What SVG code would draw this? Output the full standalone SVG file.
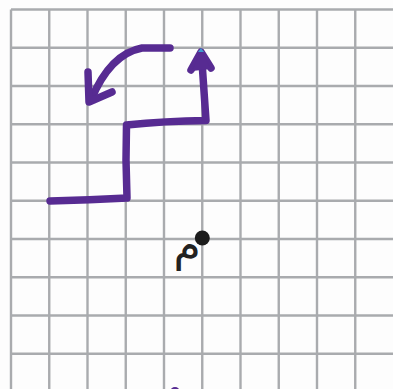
<svg xmlns="http://www.w3.org/2000/svg" width="393" height="389" viewBox="0 0 393 389">
<defs>
<style>
.grid line{stroke:#a9abae;stroke-width:2.4}
.ink{fill:none;stroke:#572b92;stroke-width:7.5;stroke-linecap:round;stroke-linejoin:round}
.lbl{font-family:"DejaVu Sans",sans-serif;font-size:44px;fill:#222}
</style>
</defs>
<rect width="393" height="389" fill="#fdfdfd"/>
<g class="grid" id="grid">
<line x1="11" y1="9.5" x2="11" y2="389"/>
<line x1="49.25" y1="9.5" x2="49.25" y2="389"/>
<line x1="87.5" y1="9.5" x2="87.5" y2="389"/>
<line x1="125.75" y1="9.5" x2="125.75" y2="389"/>
<line x1="164" y1="9.5" x2="164" y2="389"/>
<line x1="202.25" y1="9.5" x2="202.25" y2="389"/>
<line x1="240.5" y1="9.5" x2="240.5" y2="389"/>
<line x1="278.75" y1="9.5" x2="278.75" y2="389"/>
<line x1="317" y1="9.5" x2="317" y2="389"/>
<line x1="355.25" y1="9.5" x2="355.25" y2="389"/>
<line x1="11" y1="9.5" x2="393" y2="9.5"/>
<line x1="11" y1="47.75" x2="393" y2="47.75"/>
<line x1="11" y1="86" x2="393" y2="86"/>
<line x1="11" y1="124.25" x2="393" y2="124.25"/>
<line x1="11" y1="162.5" x2="393" y2="162.5"/>
<line x1="11" y1="200.75" x2="393" y2="200.75"/>
<line x1="11" y1="239" x2="393" y2="239"/>
<line x1="11" y1="277.25" x2="393" y2="277.25"/>
<line x1="11" y1="315.5" x2="393" y2="315.5"/>
<line x1="11" y1="353.75" x2="393" y2="353.75"/>
</g>
<g id="connectors">
<path class="ink" d="M50 201 Q90 200 127 198 L126 160 L126.5 125 Q165 121 206 120.5 L202 62"/>
<path class="ink" d="M191 70 L201 52 L211 68" />
<path d="M192 71 L201 50 L211 69 Z" fill="#572b92"/>
<path class="ink" d="M170 48 L142 48 Q110 54 91 100"/>
<path class="ink" d="M88 72 L89 102 L112 92"/>
<path d="M201 48 L204 52 L198 52 Z" fill="#39b6e0" opacity="0.8"/>
</g>
<g id="node-m">
<circle cx="202.3" cy="238" r="7.5" fill="#1c1c1c"/>
<text class="lbl" x="187" y="260" text-anchor="middle">م</text>
</g>
<g id="bottom-mark">
<circle cx="175" cy="392" r="5" fill="#572b92"/>
</g>
</svg>
